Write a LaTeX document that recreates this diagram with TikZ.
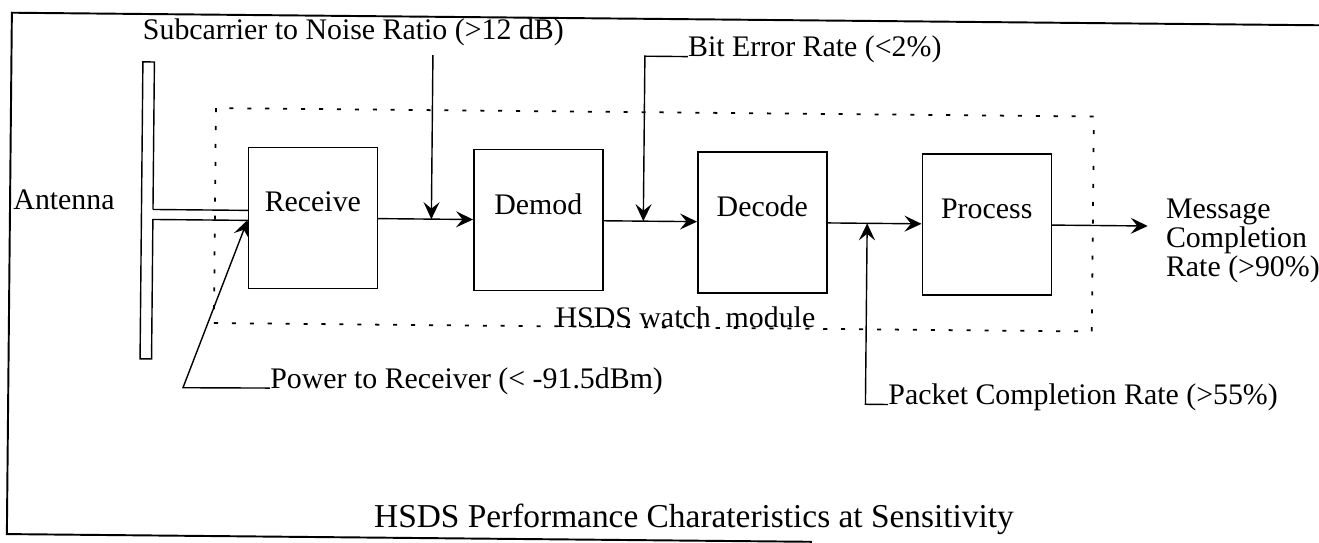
\documentclass[tikz,border=0pt]{standalone}
\usepackage{fontspec}
\setmainfont{Liberation Serif}
\usepackage{tikz}
\usetikzlibrary{positioning, arrows.meta, calc}

\begin{document}
\begin{tikzpicture}[x=0.02cm, y=-0.02cm,
  blk/.style={draw, line width=0.9pt, minimum width=2.58cm, minimum height=2.82cm, inner sep=0pt},
  lbl/.style={font=\fontsize{17}{15.3}\selectfont, inner sep=0pt},
  arr/.style={line width=0.8pt, -{Stealth[length=0.34cm, width=0.32cm, inset=0.13cm]}},
  modline/.style={line width=1pt, dash pattern=on 2.3pt off 7.9pt},
  frame/.style={line width=1.1pt}]
\useasboundingbox (0,0) rectangle (1319,542);
\clip (0,0) rectangle (1319,542);
\begin{scope}[rotate=-0.55]
% outer frame
\draw[frame] (1345,12.6) -- (12,12.6) -- (12,534) -- (817,534);

% HSDS watch module boundary
\draw[modline] (217,106) rectangle (1095,321);
\node[lbl] (wmod) at (688.5,311) {HSDS watch\ \ module};

% processing chain
\node[blk, label={[lbl, yshift=0.32cm]center:Receive}] (recv) at (315,215) {};
\node[blk, label={[lbl, yshift=0.32cm]center:Demod}] (demod) at (540.5,215) {};
\node[blk, label={[lbl, yshift=0.32cm]center:Decode}] (decode) at (764.5,215) {};
\node[blk, label={[lbl, yshift=0.32cm]center:Process}] (proc) at (989,215) {};

% antenna
\draw[line width=0.8pt] (155,208) -- (250.5,208)
  (250.5,218) -- (155,218) -- (155,357.5) -- (143.5,357.5) -- (143.5,60.5) -- (155,60.5) -- (155,208);
\node[lbl, anchor=west] (ant) at (15,199.4) {Antenna};

\draw[arr] (recv) -- (demod);
\draw[arr] (demod) -- (decode);
\draw[arr] (decode) -- (proc);

% output
\coordinate (msgin) at (1150,215);
\draw[arr] (proc) -- (msgin);
\node[lbl, anchor=west, align=left] (msg) at (1168,230) {Message\\Completion\\Rate (>90\%)};

% measurement points
\node[lbl, anchor=base west] (snr) at (143,38.6) {Subcarrier to Noise Ratio (>12 dB)};
\coordinate (snrtop) at (433.5,51);
\coordinate (snrdrop) at (433.5,215);
\draw[arr] (snrtop) -- (snrdrop);

\node[lbl, anchor=base west] (ber) at (688.4,50) {Bit Error Rate (<2\%)};
\coordinate (berdrop) at (645.5,215);
\draw[arr] (ber.base west) -| (berdrop);

\node[lbl, anchor=base west] (pcr) at (892,396) {Packet Completion Rate (>55\%)};
\coordinate (pcrup) at (869.4,215);
\draw[arr] (pcr.base west) -| (pcrup);

\node[lbl, anchor=base west] (pwr) at (273.7,385.5) {Power to Receiver (< -91.5dBm)};
\coordinate (pwrknee) at (186.7,386);
\draw[arr] (pwr.base west) -- (pwrknee) -- ([yshift=-0.04cm]recv.west);

% caption
\node[font=\fontsize{19}{22}\selectfont, inner sep=0pt] (title) at (699,513) {HSDS Performance Charateristics at Sensitivity};
\end{scope}
\end{tikzpicture}
\end{document}
